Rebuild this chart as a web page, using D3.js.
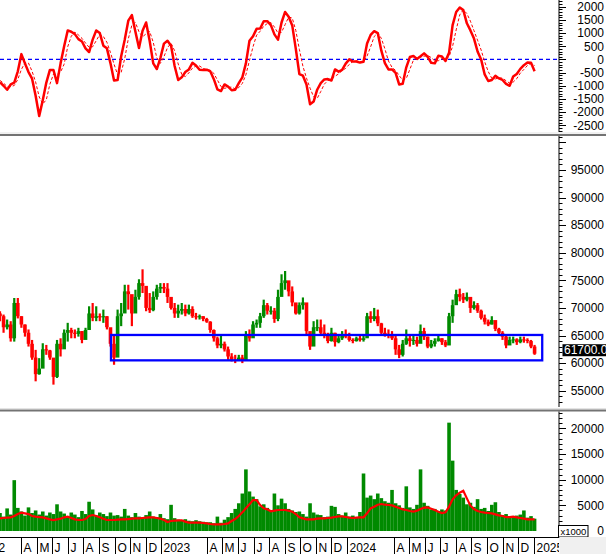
<!DOCTYPE html>
<html>
<head>
<meta charset="utf-8">
<script src="https://cdn.jsdelivr.net/npm/d3@7"></script>
<style>
  html, body { margin: 0; padding: 0; background: #fff; }
  svg { display: block; font-family: "Liberation Sans", Arial, sans-serif; }
</style>
</head>
<body>
<script>
// weekly bars, Friday closes, Feb 2022 .. Jan 2025
const weeks = d3.timeFriday.range(new Date(2022, 1, 18), new Date(2025, 0, 4));

const priceHigh = [
  69400, 68800, 67900, 67600, 71800, 71800, 68500, 67000, 66100, 64200,
  62400, 60900, 63600, 63300, 62400, 60600, 64200, 64500, 66100, 67300,
  66400, 66100, 66400, 65800, 66400, 70300, 70900, 70300, 69000, 69700,
  68500, 66100, 65200, 69700, 70900, 74200, 74200, 72100, 73300, 75200,
  77000, 73900, 72700, 73000, 74200, 74500, 74500, 74500, 71200, 70900,
  70600, 70900, 70600, 70600, 70300, 69100, 68800, 68500, 68200, 67600,
  66100, 64800, 65200, 63900, 63000, 61800, 61500, 61500, 61500, 65800,
  66100, 67600, 67900, 69100, 71500, 70900, 70300, 70000, 73300, 76100,
  76700, 74800, 73900, 70900, 71000, 71900, 69700, 65200, 67600, 67900,
  67900, 67000, 65500, 66400, 65500, 65200, 65800, 66100, 65500, 64500,
  64800, 65200, 65200, 69100, 69400, 70000, 69700, 67300, 66400, 66100,
  65800, 65200, 63300, 64200, 66100, 65200, 65200, 64800, 67000, 66400,
  64800, 64200, 64500, 65200, 64500, 64200, 69100, 71500, 73300, 73500,
  72700, 72800, 71500, 71200, 70900, 69700, 68800, 67900, 68500, 67300,
  66400, 65800, 65200, 64800, 64800, 64500, 64800, 64800, 64500, 64200,
  63300
];
const priceLow = [
  67600, 65500, 66100, 63900, 63900, 68100, 66400, 64800, 63000, 60600,
  56700, 57900, 61200, 61500, 60600, 56100, 57300, 61200, 63000, 63900,
  64500, 64500, 64800, 63600, 64500, 66100, 67600, 67600, 67600, 67300,
  66100, 63000, 59700, 61800, 66700, 69700, 69700, 66700, 69100, 71500,
  72700, 69400, 69100, 69400, 71500, 72700, 72700, 70900, 69700, 68200,
  68200, 68800, 68500, 68800, 68200, 67900, 67900, 67600, 67300, 65500,
  63900, 62700, 62700, 62100, 60600, 60300, 60000, 60600, 60000, 60900,
  63900, 65800, 66400, 66400, 68200, 68800, 68800, 67300, 67600, 73300,
  73300, 72100, 70300, 68800, 68800, 69700, 65200, 62400, 64500, 65800,
  65200, 64500, 63600, 63900, 63000, 63600, 64200, 64500, 63900, 63600,
  63900, 63900, 63900, 65500, 67300, 67600, 66700, 65200, 64800, 64500,
  64200, 61500, 60900, 61200, 63300, 63000, 63300, 63000, 63900, 64200,
  62700, 62700, 63000, 63900, 63300, 62900, 64200, 67300, 70600, 71200,
  70900, 71200, 69100, 69700, 69100, 67900, 67000, 66700, 67000, 65800,
  65200, 64200, 62700, 63300, 63600, 63300, 63600, 63700, 63600, 62700,
  61500
];
const priceClose = [
  68500, 66500, 67000, 64500, 70900, 68500, 67000, 65500, 63500, 61000,
  58000, 59000, 62500, 62300, 61000, 57500, 63500, 62500, 65500, 66000,
  65500, 65300, 65800, 64200, 66000, 69000, 68200, 68500, 68300, 68500,
  66500, 63500, 61000, 68500, 69000, 73000, 72500, 69000, 72000, 74500,
  74000, 70000, 69600, 72000, 73500, 73800, 73500, 72000, 70000, 69000,
  69500, 69800, 69000, 69800, 68500, 68300, 68500, 68000, 67500, 66000,
  64500, 63200, 63500, 62500, 61200, 60600, 60500, 61000, 60500, 65000,
  64500, 67000, 67300, 68500, 70500, 69500, 69500, 68000, 72000, 74500,
  75000, 73000, 71000, 69000, 70500, 71000, 65800, 63000, 66500, 66500,
  65500, 65000, 64000, 65500, 63800, 64500, 65200, 64800, 64200, 64000,
  64500, 64200, 64500, 68500, 68000, 68500, 67200, 65500, 65200, 65000,
  64500, 62500, 61500, 63500, 64500, 64000, 64200, 63500, 65800, 64800,
  63000, 63500, 64000, 64500, 63800, 63200, 68500, 70500, 72500, 72000,
  71500, 72000, 70000, 70500, 69500, 68200, 67500, 67000, 67800, 66200,
  65500, 64800, 63200, 64200, 64300, 63800, 64300, 64200, 64000, 63000,
  61700
];
const firstOpen = 69000;

// volume in thousands of shares
const volume = [
  3500, 2800, 4400, 3200, 9900, 4500, 3800, 3000, 4600, 3500,
  4000, 3200, 3800, 3000, 3600, 3300, 5200, 3800, 3400, 2800,
  3600, 3200, 2700, 3900, 3300, 5700, 4200, 3000, 3600, 3300,
  2900, 3600, 3000, 3100, 2800, 4300, 3000, 2700, 3500, 2800,
  2600, 3100, 3800, 2800, 2700, 3300, 2500, 2300, 5100, 2500,
  2200, 2000, 2300, 2000, 1900, 2100, 1900, 1800, 1700, 1700,
  1500, 2800, 1600, 2200, 2700, 3500, 4300, 5400, 7300, 12000,
  7700, 6700, 6200, 4800, 5200, 4500, 4000, 7300, 5000, 6300,
  5400, 4300, 4000, 3700, 3800, 3300, 2800, 5400, 3600, 3200,
  3100, 2700, 2800, 4900, 4700, 3300, 3000, 3600, 2800, 3000,
  2700, 3700, 11200, 6500, 6900, 6200, 7300, 6400, 5800, 5500,
  8000, 5400, 5000, 4500, 8700, 4600, 4300, 5100, 12000, 5500,
  4900, 4200, 4300, 3900, 4200, 4000, 21100, 13700, 8000, 7200,
  6500, 5200, 5500, 4700, 6200, 4300, 4500, 3900, 5100, 5600,
  3700, 3100, 3300, 2800, 2900, 3000, 3200, 4000, 2600, 2900,
  2400
];
const volumeMA = [
  2460, 2530, 2590, 2660, 2920, 3300, 3570, 3440, 3300, 2920,
  2790, 2720, 2660, 2460, 2270, 2140, 2270, 2400, 2660, 2790,
  2530, 2270, 2140, 2140, 2330, 2920, 3110, 2920, 2660, 2400,
  2140, 2140, 2140, 2200, 2270, 2270, 2330, 2400, 2460, 2460,
  2530, 2590, 2660, 2660, 2530, 2400, 2140, 1750, 1950, 2010,
  2080, 2080, 1820, 1620, 1620, 1620, 1620, 1560, 1490, 1360,
  1300, 1300, 1300, 1360, 1490, 1950, 2330, 2920, 3630, 4410,
  5190, 6030, 6030, 5060, 4410, 4220, 3830, 3960, 4090, 4090,
  4090, 3960, 3760, 3300, 2660, 2460, 2270, 2270, 2270, 2400,
  2460, 2460, 2530, 2590, 2720, 2850, 2850, 2720, 2590, 2530,
  2590, 2660, 2660, 3440, 4410, 4730, 5120, 5250, 5120, 5060,
  4990, 4730, 4470, 4220, 4090, 3890, 3760, 3960, 4280, 4540,
  4600, 4350, 4090, 3760, 3500, 3630, 4730, 6160, 6940, 7460,
  7850, 6360, 4930, 4280, 3890, 3700, 3570, 3500, 3440, 3240,
  3050, 2920, 2720, 2720, 2790, 2660, 2530, 2400, 2270, 2270,
  2270
];

// money-flow style oscillator (solid) and its signal (dashed)
const oscMain = [
  -870, -1000, -1150, -950, -880, -450, 200, -150, -480, -730,
  -1380, -2150, -1550, -880, -400, -400, -900, -150, 500, 1100,
  1050, 960, 770, 680, 420, 280, 750, 1100, 1000, 520,
  420, -150, -800, -780, 120, 750, 1470, 1680, 1050, 430,
  1087, 1400, 700, -150, -365, 50, 600, 710, 520, -250,
  -780, -680, -480, -380, -130, -230, -390, -400, -390, -450,
  -750, -1140, -1200, -950, -1030, -1170, -1150, -900, -680, -150,
  710, 880, 1160, 1170, 1450, 1450, 1300, 950, 750, 1400,
  1800, 1620, 1290, 400, -555, -617, -950, -1700, -1600, -1150,
  -900, -760, -745, -800, -380, -465, -400, -160, 0, -80,
  -80, -120, -90, 600, 930, 1070, 1000, 330, -140, -380,
  -380, -510, -950, -920, -300, 90, 130, 20, 120, 230,
  100, -130, -150, 140, 110, -60, 250, 1300, 1800, 1970,
  1870, 1370, 1100, 790, 300, 0, -570, -820, -780, -620,
  -720, -780, -930, -1000, -650, -550, -360, -220, -120, -130,
  -453
];
const oscSignal = [
  -800, -900, -1030, -1030, -990, -760, -380, -130, -140, -450,
  -860, -1420, -1690, -1530, -940, -560, -570, -480, -180, 480,
  880, 1040, 930, 800, 620, 460, 480, 710, 950, 870,
  650, 260, -180, -580, -490, 30, 780, 1300, 1400, 1050,
  860, 970, 1060, 650, 60, -150, 100, 450, 610, 330,
  -170, -570, -650, -510, -330, -250, -250, -340, -390, -410,
  -530, -780, -1030, -1100, -1060, -1050, -1120, -1070, -910, -580,
  -40, 480, 920, 1070, 1260, 1360, 1400, 1230, 1000, 1030,
  1320, 1610, 1570, 1100, 380, -260, -710, -1090, -1420, -1480,
  -1220, -940, -800, -770, -640, -550, -420, -340, -190, -80,
  -50, -90, -100, 130, 480, 870, 1000, 800, 400, -60,
  -300, -420, -610, -790, -720, -380, -30, 80, 90, 120,
  150, 70, -60, -50, 30, 60, 100, 500, 1120, 1690,
  1880, 1740, 1450, 1090, 730, 360, -90, -460, -720, -740,
  -700, -710, -810, -900, -860, -730, -520, -380, -230, -160,
  -230
];

// support/resistance box drawn on the price panel
const zoneDates = [new Date(2022, 8, 24), new Date(2025, 0, 18)];
const zonePrices = [60500, 65100];

// axis labels
const oscTicks = [-2500, -2000, -1500, -1000, -500, 0, 500, 1000, 1500, 2000];
const priceTicks = [55000, 60000, 65000, 70000, 75000, 80000, 85000, 90000, 95000];
const volTicks = [0, 5000, 10000, 15000, 20000];
const monthTicks = [
  '2022-01', '2022-04', '2022-05', '2022-06', '2022-07', '2022-08', '2022-09', '2022-10', '2022-11', '2022-12',
  '2023-01', '2023-04', '2023-05', '2023-06', '2023-07', '2023-08', '2023-09', '2023-10', '2023-11', '2023-12',
  '2024-01', '2024-04', '2024-05', '2024-06', '2024-07', '2024-08', '2024-09', '2024-10', '2024-11', '2024-12',
  '2025-01'
];
const monthLabels = [
  '2022', 'A', 'M', 'J', 'J', 'A', 'S', 'O', 'N', 'D',
  '2023', 'A', 'M', 'J', 'J', 'A', 'S', 'O', 'N', 'D',
  '2024', 'A', 'M', 'J', 'J', 'A', 'S', 'O', 'N', 'D',
  '2025'
];

const W = 606;
const H = 554;
const AXIS_X = 559;
const GREEN = '#008a00';
const RED = '#ff0000';

/**
 * Draw a right hand value axis with major + minor ticks
 * labels are right aligned against the window edge
 */
function drawValueAxis(svg, y, top, bottom, majors, labels, minorStep) {
  const g = svg.append('g').attr('transform', `translate(${AXIS_X},0)`);
  const [d0, d1] = [y.invert(bottom), y.invert(top)];
  const minors = d3.range(Math.ceil(d0 / minorStep) * minorStep, d1, minorStep);

  g.selectAll('line.minor')
    .data(minors)
    .join('line')
    .attr('class', 'minor')
    .attr('x1', 0).attr('x2', 3.5)
    .attr('y1', (d) => Math.round(y(d)) + 0.5)
    .attr('y2', (d) => Math.round(y(d)) + 0.5)
    .attr('stroke', '#000');

  g.selectAll('line.major')
    .data(majors.filter((d) => y(d) > top && y(d) < bottom))
    .join('line')
    .attr('class', 'major')
    .attr('x1', 0).attr('x2', 7)
    .attr('y1', (d) => Math.round(y(d)) + 0.5)
    .attr('y2', (d) => Math.round(y(d)) + 0.5)
    .attr('stroke', '#000');

  g.selectAll('text')
    .data(labels)
    .join('text')
    .attr('x', W - AXIS_X - 2)
    .attr('y', (d) => y(d))
    .attr('dy', '0.36em')
    .attr('text-anchor', 'end')
    .attr('font-size', 12)
    .attr('fill', '#000')
    .text((d) => d);

  svg.append('line')
    .attr('x1', AXIS_X).attr('x2', AXIS_X)
    .attr('y1', top).attr('y2', bottom)
    .attr('stroke', '#000');
}

// bevelled divider between panels
function drawDivider(svg, yLight) {
  svg.append('rect').attr('x', 0).attr('y', yLight).attr('width', W).attr('height', 1)
    .attr('fill', '#e4e4e4');
  svg.append('rect').attr('x', 0).attr('y', yLight + 1.5).attr('width', W).attr('height', 2)
    .attr('fill', '#737373');
}

function main() {
  const svg = d3.select('body')
    .append('svg')
    .attr('width', W)
    .attr('height', H);

  const x = d3.scaleTime()
    .domain([new Date(2022, 1, 18), new Date(2025, 1, 18)])
    .range([0, 558]);

  svg.append('defs').append('clipPath').attr('id', 'plot')
    .append('rect').attr('x', 0).attr('y', 0).attr('width', AXIS_X).attr('height', H);

  // ---- oscillator panel
  const yOsc = d3.scaleLinear().domain([-2500, 2000]).range([125.3, 6.7]);
  const osc = svg.append('g').attr('clip-path', 'url(#plot)');
  osc.append('line')
    .attr('x1', 0).attr('x2', AXIS_X)
    .attr('y1', yOsc(0)).attr('y2', yOsc(0))
    .attr('stroke', '#0000ff')
    .attr('stroke-width', 1.2)
    .attr('stroke-dasharray', '4,3');
  const oscLine = (vals) => d3.line()
    .x((d, i) => x(weeks[i]))
    .y((d) => yOsc(d))(vals);
  osc.append('path')
    .attr('d', oscLine(oscSignal))
    .attr('fill', 'none')
    .attr('stroke', RED)
    .attr('stroke-width', 1)
    .attr('stroke-dasharray', '3,2');
  osc.append('path')
    .attr('d', oscLine(oscMain))
    .attr('fill', 'none')
    .attr('stroke', RED)
    .attr('stroke-width', 2.5)
    .attr('stroke-linejoin', 'round');
  drawValueAxis(svg, yOsc, 0, 132, d3.range(-3000, 2501, 500), oscTicks, 100);
  drawDivider(svg, 132.5);

  // ---- price panel
  const yPrice = d3.scaleLinear().domain([55000, 95000]).range([390.7, 170]);
  const bars = weeks.map((date, i) => ({
    date,
    high: priceHigh[i],
    low: priceLow[i],
    open: i > 0 ? priceClose[i - 1] : firstOpen,
    close: priceClose[i],
  }));
  const price = svg.append('g').attr('clip-path', 'url(#plot)');
  price.selectAll('line.wick')
    .data(bars)
    .join('line')
    .attr('class', 'wick')
    .attr('x1', (d) => x(d.date)).attr('x2', (d) => x(d.date))
    .attr('y1', (d) => yPrice(d.high))
    .attr('y2', (d) => yPrice(d.low))
    .attr('stroke', (d) => d.close >= d.open ? GREEN : RED)
    .attr('stroke-width', 2.2);
  price.selectAll('rect.body')
    .data(bars)
    .join('rect')
    .attr('class', 'body')
    .attr('x', (d) => x(d.date) - 1.8)
    .attr('width', 3.6)
    .attr('y', (d) => yPrice(Math.max(d.open, d.close)))
    .attr('height', (d) => Math.max(1, Math.abs(yPrice(d.open) - yPrice(d.close))))
    .attr('fill', (d) => d.close >= d.open ? GREEN : RED);

  price.append('rect')
    .attr('x', x(zoneDates[0]))
    .attr('y', yPrice(zonePrices[1]))
    .attr('width', x(zoneDates[1]) - x(zoneDates[0]))
    .attr('height', yPrice(zonePrices[0]) - yPrice(zonePrices[1]))
    .attr('fill', 'none')
    .attr('stroke', '#0000ff')
    .attr('stroke-width', 2.3);

  drawValueAxis(svg, yPrice, 136, 407, d3.range(50000, 100001, 5000), priceTicks, 1000);

  // last close tag, clipped by the window edge like the original
  const last = priceClose[priceClose.length - 1];
  const yLast = yPrice(last);
  svg.append('rect')
    .attr('x', 562.5).attr('y', yLast - 9.5)
    .attr('width', 50).attr('height', 12)
    .attr('fill', '#000');
  svg.append('text')
    .attr('x', 564).attr('y', yLast + 0.6)
    .attr('font-size', 12)
    .attr('fill', '#fff')
    .text(d3.format('.2f')(last));

  drawDivider(svg, 408);

  // ---- volume panel
  const yVol = d3.scaleLinear().domain([0, 20000]).range([531, 428.3]);
  const vol = svg.append('g').attr('clip-path', 'url(#plot)');
  vol.selectAll('rect')
    .data(weeks)
    .join('rect')
    .attr('x', (d) => x(d) - 1.8)
    .attr('width', 3.6)
    .attr('y', (d, i) => yVol(volume[i]))
    .attr('height', (d, i) => yVol(0) - yVol(volume[i]))
    .attr('fill', GREEN);
  vol.append('path')
    .attr('d', d3.line()
      .x((d, i) => x(weeks[i]))
      .y((d) => yVol(d))(volumeMA))
    .attr('fill', 'none')
    .attr('stroke', RED)
    .attr('stroke-width', 2.2);
  drawValueAxis(svg, yVol, 411.5, 537, d3.range(0, 25001, 5000), volTicks, 1000);

  svg.append('rect')
    .attr('x', 558.5).attr('y', 525.5)
    .attr('width', 29.5).attr('height', 11.5)
    .attr('fill', '#fff')
    .attr('stroke', '#000');
  svg.append('text')
    .attr('x', 560.5).attr('y', 534.5)
    .attr('font-size', 9.5)
    .attr('fill', '#000')
    .text('x1000');

  // ---- date strip
  svg.append('rect')
    .attr('x', AXIS_X + 0.5).attr('y', 537)
    .attr('width', W - AXIS_X).attr('height', H - 537)
    .attr('fill', '#f0f0f0');
  const strip = svg.append('g').attr('clip-path', 'url(#plot)');
  strip.append('line')
    .attr('x1', 0).attr('x2', AXIS_X)
    .attr('y1', 537.5).attr('y2', 537.5)
    .attr('stroke', '#000');
  const parse = d3.timeParse('%Y-%m');
  const ticks = monthTicks.map((m, i) => ({ date: parse(m), label: monthLabels[i] }));
  strip.selectAll('line.month')
    .data(ticks)
    .join('line')
    .attr('class', 'month')
    .attr('x1', (d) => Math.round(x(d.date)) + 0.5)
    .attr('x2', (d) => Math.round(x(d.date)) + 0.5)
    .attr('y1', 537).attr('y2', H)
    .attr('stroke', '#000');
  strip.selectAll('text')
    .data(ticks)
    .join('text')
    .attr('x', (d) => Math.round(x(d.date)) + 2.5)
    .attr('y', 551.5)
    .attr('font-size', 12)
    .attr('fill', '#000')
    .text((d) => d.label);
}

main();
</script>
</body>
</html>
